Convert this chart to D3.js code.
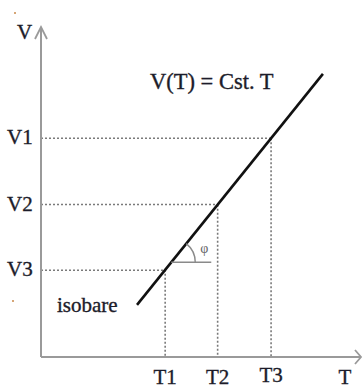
<!DOCTYPE html>
<html><head><meta charset="utf-8">
<script src="https://cdn.jsdelivr.net/npm/d3@7"></script>
<style>body{margin:0;background:#fff}svg{display:block}</style>
</head><body>
<script>
// data (abstract units)
const tickT = [38.8, 55.2, 71.9];
const tickTLabels = ["T1", "T2", "T3"];
const tickV = [26.3, 46.2, 66.3];
const tickVLabels = ["V3", "V2", "V1"];
const lineT = [30, 88.1];
const lineV = [15.8, 85.8];
const equation = "V(T) = Cst. T";
const isoLabel = "isobare";
const angleLabel = "φ";

const W = 363, H = 389;
const x = d3.scaleLinear().domain([0, 100]).range([41, 361]);
const y = d3.scaleLinear().domain([0, 100]).range([357, 27]);
const svg = d3.select("body").append("svg").attr("width", W).attr("height", H);
const serif = "Liberation Serif";
const txt = "#1c1c2a";
const fs = 21;

const slope = (lineV[1] - lineV[0]) / (lineT[1] - lineT[0]);
const tAt = v => lineT[0] + (v - lineV[0]) / slope;

// dotted guides
tickV.forEach(v => {
  svg.append("line").attr("x1", x(0)).attr("x2", x(tAt(v)))
    .attr("y1", y(v)).attr("y2", y(v))
    .attr("stroke", "#7a7a7a").attr("stroke-width", 1.6).attr("stroke-dasharray", "2,2");
});
tickT.forEach(t => {
  const v = lineV[0] + (t - lineT[0]) * slope;
  svg.append("line").attr("x1", x(t)).attr("x2", x(t))
    .attr("y1", y(v)).attr("y2", y(0))
    .attr("stroke", "#7a7a7a").attr("stroke-width", 1.6).attr("stroke-dasharray", "2,2");
});

// axes
const axisC = "#9a9a9a";
svg.append("line").attr("x1", x(0)).attr("x2", x(100)).attr("y1", y(0)).attr("y2", y(0))
  .attr("stroke", axisC).attr("stroke-width", 2);
svg.append("line").attr("x1", x(0)).attr("x2", x(0)).attr("y1", y(0)).attr("y2", y(100))
  .attr("stroke", axisC).attr("stroke-width", 2);
svg.append("path").attr("d", `M${x(100)-6},${y(0)-7} L${x(100)},${y(0)} L${x(100)-6},${y(0)+7}`)
  .attr("fill", "none").attr("stroke", axisC).attr("stroke-width", 1.8);
svg.append("path").attr("d", `M${x(0)-6},${y(100)+12} L${x(0)},${y(100)} L${x(0)+6},${y(100)+12}`)
  .attr("fill", "none").attr("stroke", axisC).attr("stroke-width", 1.8);

// main line
svg.append("line").attr("x1", x(lineT[0])).attr("y1", y(lineV[0]))
  .attr("x2", x(lineT[1])).attr("y2", y(lineV[1]))
  .attr("stroke", "#111").attr("stroke-width", 2.6);

// angle marker
const vA = 28.7;
const cx = x(tAt(vA)), cy = y(vA);
svg.append("line").attr("x1", cx).attr("x2", cx + 40).attr("y1", cy).attr("y2", cy)
  .attr("stroke", "#8a8a8a").attr("stroke-width", 1.6);
const ang = Math.atan2(y(lineV[0]) - y(lineV[1]), x(lineT[1]) - x(lineT[0]));
const r = 24;
svg.append("path")
  .attr("d", `M${cx + r*Math.cos(ang)},${cy - r*Math.sin(ang)} A${r},${r} 0 0 1 ${cx + r},${cy}`)
  .attr("fill", "none").attr("stroke", "#8a8a8a").attr("stroke-width", 1.4);
svg.append("text").attr("x", cx + 33).attr("y", cy - 9).attr("text-anchor", "middle")
  .attr("font-family", serif).attr("font-size", 14).attr("fill", "#666").text(angleLabel);

function label(s, px, py, anchor, size) {
  svg.append("text").attr("x", px).attr("y", py).attr("text-anchor", anchor || "start")
    .attr("font-family", serif).attr("font-size", size || fs).attr("fill", txt)
    .attr("stroke", txt).attr("stroke-width", 0.35).text(s);
}
tickV.forEach((v, i) => label(tickVLabels[i], 7, y(v) + 6));
tickT.forEach((t, i) => label(tickTLabels[i], x(t), 384 - (i === 2 ? 2 : 0), "middle"));
label("T", 345, 384, "middle");
label("V", 17, 39);
label(equation, 150, 89, "start", 22.5);
label(isoLabel, 57, 312);

// stray marks
svg.append("circle").attr("cx", 15).attr("cy", 13).attr("r", 1).attr("fill", "#c8884a");
svg.append("circle").attr("cx", 13).attr("cy", 301).attr("r", 1).attr("fill", "#c8884a");
</script>
</body></html>
